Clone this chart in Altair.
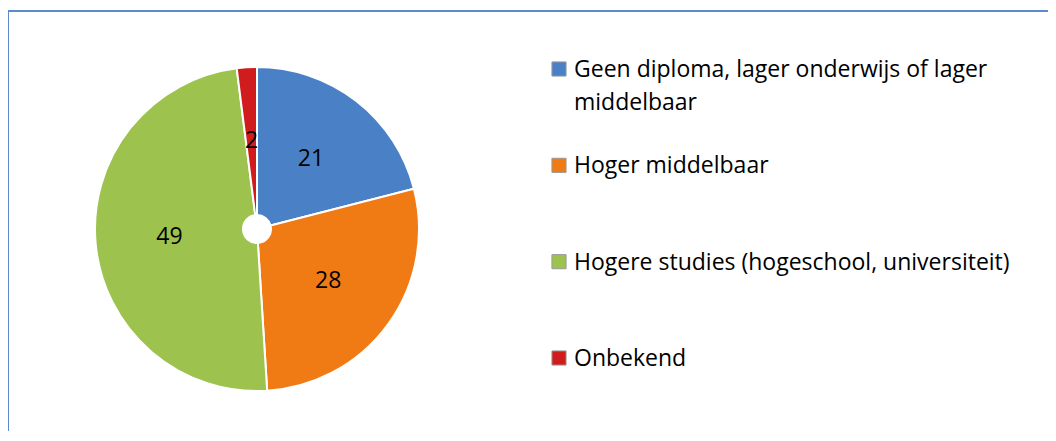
import altair as alt
import pandas as pd

categories = [
    "Geen diploma, lager onderwijs of lager\nmiddelbaar",
    "Hoger middelbaar",
    "Hogere studies (hogeschool, universiteit)",
    "Onbekend",
]
values = [21, 28, 49, 2]
colors = ["#4a80c6", "#f07a14", "#9dc34e", "#d01c1c"]

FONT = "Open Sans"
FS = 23
W, H = 1040, 421

df = pd.DataFrame({
    "cat": categories,
    "value": values,
    "order": list(range(len(categories))),
})
frame = pd.DataFrame({"k": [0]})

color = alt.Color("cat:N", scale=alt.Scale(domain=categories, range=colors), legend=None)

cx, cy = 249, 219

pie = alt.Chart(df).mark_arc(
    outerRadius=162, innerRadius=14, stroke="white", strokeWidth=2
).encode(
    theta=alt.Theta("value:Q", stack=True),
    order=alt.Order("order:Q"),
    color=color,
    x=alt.value(cx), y=alt.value(cy),
)

labels = alt.Chart(df).mark_text(
    radius=88, font=FONT, fontSize=FS, color="black", align="center", baseline="middle"
).encode(
    theta=alt.Theta("value:Q", stack=True),
    order=alt.Order("order:Q"),
    text=alt.Text("value:Q"),
    x=alt.value(cx), y=alt.value(cy),
)

ly = alt.Y("order:Q", scale=alt.Scale(domain=[0, 3], range=[67, 356]), axis=None)

leg_sym = alt.Chart(df).mark_square(
    size=200, opacity=1, stroke="#9a9a9a", strokeWidth=1, yOffset=-8
).encode(
    y=ly,
    color=color,
    x=alt.value(551),
)

leg_txt = alt.Chart(df).mark_text(
    align="left", baseline="alphabetic", lineBreak="\n", lineHeight=33,
    font=FONT, fontSize=FS, color="black"
).encode(
    y=ly,
    text="cat:N",
    x=alt.value(566),
)

border_top = alt.Chart(frame).mark_rule(color="#5b8bc8", strokeWidth=2).encode(
    x=alt.value(-1), x2=alt.value(W + 20), y=alt.value(1)
)
border_left = alt.Chart(frame).mark_rule(color="#5b8bc8", strokeWidth=2).encode(
    x=alt.value(0), y=alt.value(0), y2=alt.value(H + 20)
)

chart = alt.layer(pie, labels, leg_sym, leg_txt, border_top, border_left).properties(
    width=W, height=H,
    padding={"left": 0, "top": 2, "right": 0, "bottom": 0},
    autosize="none",
).configure_view(stroke=None)

chart.save("out.html", embed_options={"renderer": "svg", "actions": False})
